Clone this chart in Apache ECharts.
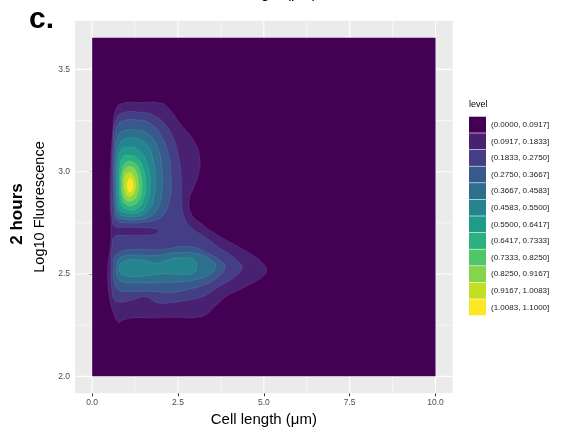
<!DOCTYPE html>
<html>
<head>
<meta charset="utf-8">
<script src="https://cdn.jsdelivr.net/npm/echarts@6/dist/echarts.min.js"></script>
<style>
  html, body { margin: 0; padding: 0; background: #ffffff; }
  #chart { width: 561px; height: 434px; }
</style>
</head>
<body>
<div id="chart"></div>
<script>
// Axis ticks
const xTicks = [0, 2.5, 5, 7.5, 10];
const xMinor = [1.25, 3.75, 6.25, 8.75];
const yTicks = [2.0, 2.5, 3.0, 3.5];
const yMinor = [2.25, 2.75, 3.25];

// Density level bins (legend)
const levelLabels = [
  '(0.0000, 0.0917]', '(0.0917, 0.1833]', '(0.1833, 0.2750]', '(0.2750, 0.3667]',
  '(0.3667, 0.4583]', '(0.4583, 0.5500]', '(0.5500, 0.6417]', '(0.6417, 0.7333]',
  '(0.7333, 0.8250]', '(0.8250, 0.9167]', '(0.9167, 1.0083]', '(1.0083, 1.1000]'
];
const levelColors = [
  '#440154', '#482173', '#433E85', '#38598C', '#2D708E', '#25858E',
  '#1E9B8A', '#2BB07F', '#51C56A', '#85D54A', '#C2DF23', '#FDE725'
];

// Filled contour regions, [cell length, log10 fluorescence]
const level0 = [
  [[0, 2.0], [10, 2.0], [10, 3.655], [0, 3.655]]
];
const level1 = [
  [[0.6, 3.2], [0.68, 3.3], [0.88, 3.334], [1.4, 3.338], [1.98, 3.336], [2.2, 3.315],
   [2.56, 3.236], [2.95, 3.154], [3.13, 3.073], [3.1, 2.99], [2.95, 2.92],
   [2.83, 2.86], [2.9, 2.79], [3.2, 2.745], [3.45, 2.712], [3.92, 2.664], [4.3, 2.63],
   [4.65, 2.595], [4.93, 2.56], [5.08, 2.52], [4.95, 2.485], [4.6, 2.45], [4.25, 2.42],
   [3.95, 2.395], [3.6, 2.345], [3.3, 2.3], [3.0, 2.288], [2.4, 2.287], [1.8, 2.286],
   [1.2, 2.285], [0.9, 2.275], [0.77, 2.263], [0.62, 2.31], [0.52, 2.37], [0.45, 2.47],
   [0.47, 2.56], [0.53, 2.64], [0.55, 2.72], [0.52, 2.84], [0.52, 2.95], [0.55, 3.08]]
];
const level2 = [
  [[0.57, 2.94], [0.6, 3.15], [0.7, 3.258], [0.92, 3.289], [1.4, 3.29], [1.8, 3.275],
   [2.1, 3.235], [2.35, 3.17], [2.52, 3.07], [2.6, 2.95], [2.6, 2.86], [2.68, 2.78],
   [2.9, 2.725], [3.3, 2.68], [3.7, 2.63], [4.02, 2.595], [4.28, 2.555], [4.37, 2.535],
   [4.28, 2.505], [4.02, 2.47], [3.7, 2.44], [3.45, 2.41], [3.14, 2.385], [2.7, 2.37],
   [2.25, 2.36], [1.9, 2.36], [1.55, 2.39], [1.2, 2.375], [0.8, 2.362], [0.64, 2.375],
   [0.57, 2.43], [0.55, 2.53], [0.58, 2.64], [0.66, 2.683], [1.0, 2.688], [1.6, 2.69],
   [1.88, 2.697], [1.93, 2.707], [1.88, 2.718], [1.6, 2.725], [1.0, 2.728], [0.66, 2.733],
   [0.58, 2.78], [0.56, 2.86]]
];
const level3 = [
  [[0.62, 2.94], [0.64, 3.12], [0.73, 3.222], [0.92, 3.25], [1.35, 3.252], [1.7, 3.235],
   [1.98, 3.185], [2.2, 3.1], [2.3, 2.96], [2.22, 2.84], [1.98, 2.775], [1.5, 2.754],
   [1.0, 2.75], [0.72, 2.762], [0.64, 2.82]],
  [[0.62, 2.53], [0.72, 2.598], [1.2, 2.62], [2.0, 2.62], [2.8, 2.635], [3.4, 2.6],
   [3.78, 2.56], [3.87, 2.535], [3.7, 2.49], [3.3, 2.45], [2.8, 2.425], [2.3, 2.41],
   [1.7, 2.415], [1.2, 2.415], [0.8, 2.42], [0.65, 2.46]]
];
const level4 = [
  [[0.66, 2.94], [0.68, 3.09], [0.77, 3.178], [0.97, 3.202], [1.3, 3.203], [1.62, 3.185],
   [1.88, 3.13], [2.02, 3.03], [2.04, 2.92], [1.92, 2.825], [1.66, 2.778], [1.3, 2.766],
   [0.95, 2.767], [0.74, 2.782], [0.68, 2.84]],
  [[0.71, 2.53], [0.8, 2.578], [1.2, 2.594], [1.8, 2.59], [2.5, 2.605], [3.1, 2.598],
   [3.5, 2.565], [3.6, 2.535], [3.45, 2.5], [3.0, 2.472], [2.5, 2.462], [1.9, 2.457],
   [1.3, 2.457], [0.85, 2.464], [0.73, 2.49]]
];
const level5 = [
  [[0.7, 2.94], [0.72, 3.06], [0.81, 3.14], [1.0, 3.162], [1.3, 3.162], [1.58, 3.135],
   [1.76, 3.07], [1.84, 2.97], [1.8, 2.875], [1.64, 2.812], [1.35, 2.783], [1.0, 2.782],
   [0.78, 2.797], [0.72, 2.85]],
  [[0.78, 2.53], [0.9, 2.56], [1.2, 2.57], [1.6, 2.564], [1.88, 2.552], [2.2, 2.569],
   [2.6, 2.579], [2.95, 2.57], [3.05, 2.54], [2.95, 2.506], [2.6, 2.497], [2.2, 2.501],
   [1.88, 2.498], [1.5, 2.49], [1.1, 2.488], [0.85, 2.5]]
];
const level6 = [
  [[0.74, 2.94], [0.76, 3.04], [0.85, 3.105], [1.05, 3.12], [1.3, 3.11], [1.52, 3.07],
   [1.66, 3.0], [1.69, 2.93], [1.6, 2.85], [1.38, 2.802], [1.05, 2.797], [0.83, 2.812],
   [0.76, 2.86]]
];
const level7 = [
  [[0.79, 2.94], [0.81, 3.025], [0.9, 3.072], [1.1, 3.08], [1.32, 3.066], [1.48, 3.018],
   [1.56, 2.94], [1.49, 2.86], [1.29, 2.817], [1.05, 2.814], [0.87, 2.832], [0.8, 2.88]]
];
const level8 = [
  [[0.83, 2.94], [0.86, 3.008], [0.97, 3.044], [1.15, 3.05], [1.32, 3.028], [1.42, 2.98],
   [1.45, 2.92], [1.37, 2.862], [1.2, 2.836], [1.0, 2.837], [0.88, 2.866]]
];
const level9 = [
  [[0.87, 2.94], [0.9, 2.993], [1.0, 3.021], [1.15, 3.024], [1.28, 2.998], [1.35, 2.94],
   [1.3, 2.882], [1.15, 2.857], [0.98, 2.862], [0.9, 2.892]]
];
const level10 = [
  [[0.93, 2.94], [0.96, 2.979], [1.05, 2.996], [1.17, 2.989], [1.26, 2.95], [1.24, 2.902],
   [1.13, 2.879], [1.0, 2.886], [0.95, 2.91]]
];
const level11 = [
  [[1.02, 2.935], [1.06, 2.962], [1.12, 2.97], [1.18, 2.95], [1.19, 2.92], [1.13, 2.9],
   [1.06, 2.905]]
];
const levelShapes = [level0, level1, level2, level3, level4, level5,
  level6, level7, level8, level9, level10, level11];

const FONT = '"Liberation Sans", Arial, Helvetica, sans-serif';

// White panel grid lines (drawn under the density fill)
const gridLineItems = []
  .concat(xTicks.map(v => ['x', v, 1]))
  .concat(xMinor.map(v => ['x', v, 0]))
  .concat(yTicks.map(v => ['y', v, 1]))
  .concat(yMinor.map(v => ['y', v, 0]));

const gridSeries = {
  type: 'custom',
  name: 'gridlines',
  silent: true,
  z: 1,
  data: gridLineItems.map((g, i) => [i]),
  renderItem: function (params, api) {
    const g = gridLineItems[params.dataIndex];
    const cs = params.coordSys;
    let shape;
    if (g[0] === 'x') {
      const px = api.coord([g[1], 2.5])[0];
      shape = { x1: px, y1: cs.y, x2: px, y2: cs.y + cs.height };
    } else {
      const py = api.coord([0, g[1]])[1];
      shape = { x1: cs.x, y1: py, x2: cs.x + cs.width, y2: py };
    }
    return {
      type: 'line',
      shape: shape,
      style: { stroke: '#ffffff', lineWidth: g[2] ? 1.1 : 0.55 }
    };
  }
};

const levelSeries = levelShapes.map((polys, k) => ({
  type: 'custom',
  name: levelLabels[k],
  silent: true,
  z: 2 + k,
  itemStyle: { color: levelColors[k] },
  data: polys.map((p, i) => [i]),
  renderItem: function (params, api) {
    const pts = polys[params.dataIndex].map(p => api.coord(p));
    return {
      type: 'polygon',
      shape: { points: pts, smooth: k === 0 ? 0 : 0.5 },
      style: {
        fill: levelColors[k],
        stroke: k === 0 ? null : 'rgba(255,255,255,0.14)',
        lineWidth: 0.6
      }
    };
  }
}));

const chart = echarts.init(document.getElementById('chart'), null, { renderer: 'canvas' });
chart.setOption({
  animation: false,
  grid: {
    left: 75, right: 108.3, top: 20.7, bottom: 40.7,
    show: true, backgroundColor: '#EBEBEB', borderWidth: 0
  },
  xAxis: {
    type: 'value', min: -0.5, max: 10.5,
    name: 'Cell length (μm)', nameLocation: 'middle', nameGap: 17,
    nameTextStyle: { fontSize: 15, color: '#000000', fontFamily: FONT },
    axisLine: { show: false },
    splitLine: { show: false },
    axisTick: { show: true, customValues: xTicks, length: 3, lineStyle: { color: '#333333', width: 1 } },
    axisLabel: {
      customValues: xTicks, margin: 5, fontSize: 8.5, color: '#4D4D4D', fontFamily: FONT,
      formatter: v => Number(v).toFixed(1)
    }
  },
  yAxis: {
    type: 'value', min: 1.91725, max: 3.73775,
    name: 'Log10 Fluorescence', nameLocation: 'middle', nameGap: 25,
    nameTextStyle: { fontSize: 14.5, color: '#000000', fontFamily: FONT },
    axisLine: { show: false },
    splitLine: { show: false },
    axisTick: { show: true, customValues: yTicks, length: 3, lineStyle: { color: '#333333', width: 1 } },
    axisLabel: {
      customValues: yTicks, margin: 5, fontSize: 8.5, color: '#4D4D4D', fontFamily: FONT,
      formatter: v => Number(v).toFixed(1)
    }
  },
  legend: {
    orient: 'vertical', left: 469, top: 116.7, padding: 0,
    itemWidth: 17, itemHeight: 16, itemGap: 0.6,
    icon: 'rect', selectedMode: false,
    data: levelLabels,
    textStyle: { fontSize: 8, color: '#1A1A1A', fontFamily: FONT }
  },
  graphic: [
    { type: 'text', left: 469, top: 100, style: { text: 'level', fontSize: 9, fill: '#000000', fontFamily: FONT } },
    { type: 'text', x: 29, y: 35, style: { text: 'c.', fontSize: 30, fontWeight: 'bold', fill: '#000000', fontFamily: FONT, verticalAlign: 'bottom' } },
    { type: 'text', x: 17, y: 214, rotation: Math.PI / 2,
      style: { text: '2 hours', fontSize: 17, fontWeight: 'bold', fill: '#000000', fontFamily: FONT, align: 'center', verticalAlign: 'middle' } },
    { type: 'text', x: 264, y: 1.5, style: { text: 'Cell length (μm)', fontSize: 15, fill: '#000000', fontFamily: FONT, align: 'center', verticalAlign: 'bottom' } }
  ],
  series: [gridSeries].concat(levelSeries)
});
</script>
</body>
</html>
